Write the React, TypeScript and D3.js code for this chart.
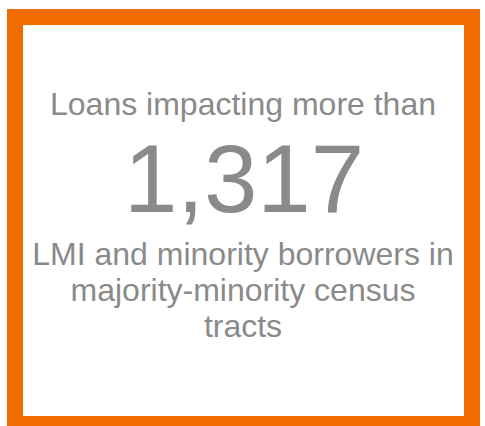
import React from "react";
import * as d3 from "d3";

const W = 485;
const H = 426;

const headerLines = ["Loans impacting more than"];
const kpiValue = [1317];
const footerLines = ["LMI and minority borrowers in", "majority-minority census", "tracts"];

export default function App() {
  const fmt = d3.format(",");
  const cx = 243;
  const font = "'Liberation Sans', Arial, sans-serif";
  const gray = "#8a8a8a";
  return (
    <svg
      width={W}
      height={H}
      style={{ position: "fixed", left: 0, top: 0, display: "block", background: "#ffffff" }}
    >
      <rect x={15} y={17} width={457} height={407} fill="#ffffff" stroke="#f06c00" strokeWidth={16} />
      <g fontFamily={font} fill={gray} textAnchor="middle">
        {headerLines.map((t, i) => (
          <text key={t} x={cx} y={115 + i * 36} fontSize={32}>
            {t}
          </text>
        ))}
        {kpiValue.map((v) => (
          <text key={v} x={cx + 1} y={212} fontSize={96}>
            {fmt(v)}
          </text>
        ))}
        {footerLines.map((t, i) => (
          <text key={t} x={cx} y={265 + i * 36} fontSize={32}>
            {t}
          </text>
        ))}
      </g>
    </svg>
  );
}
